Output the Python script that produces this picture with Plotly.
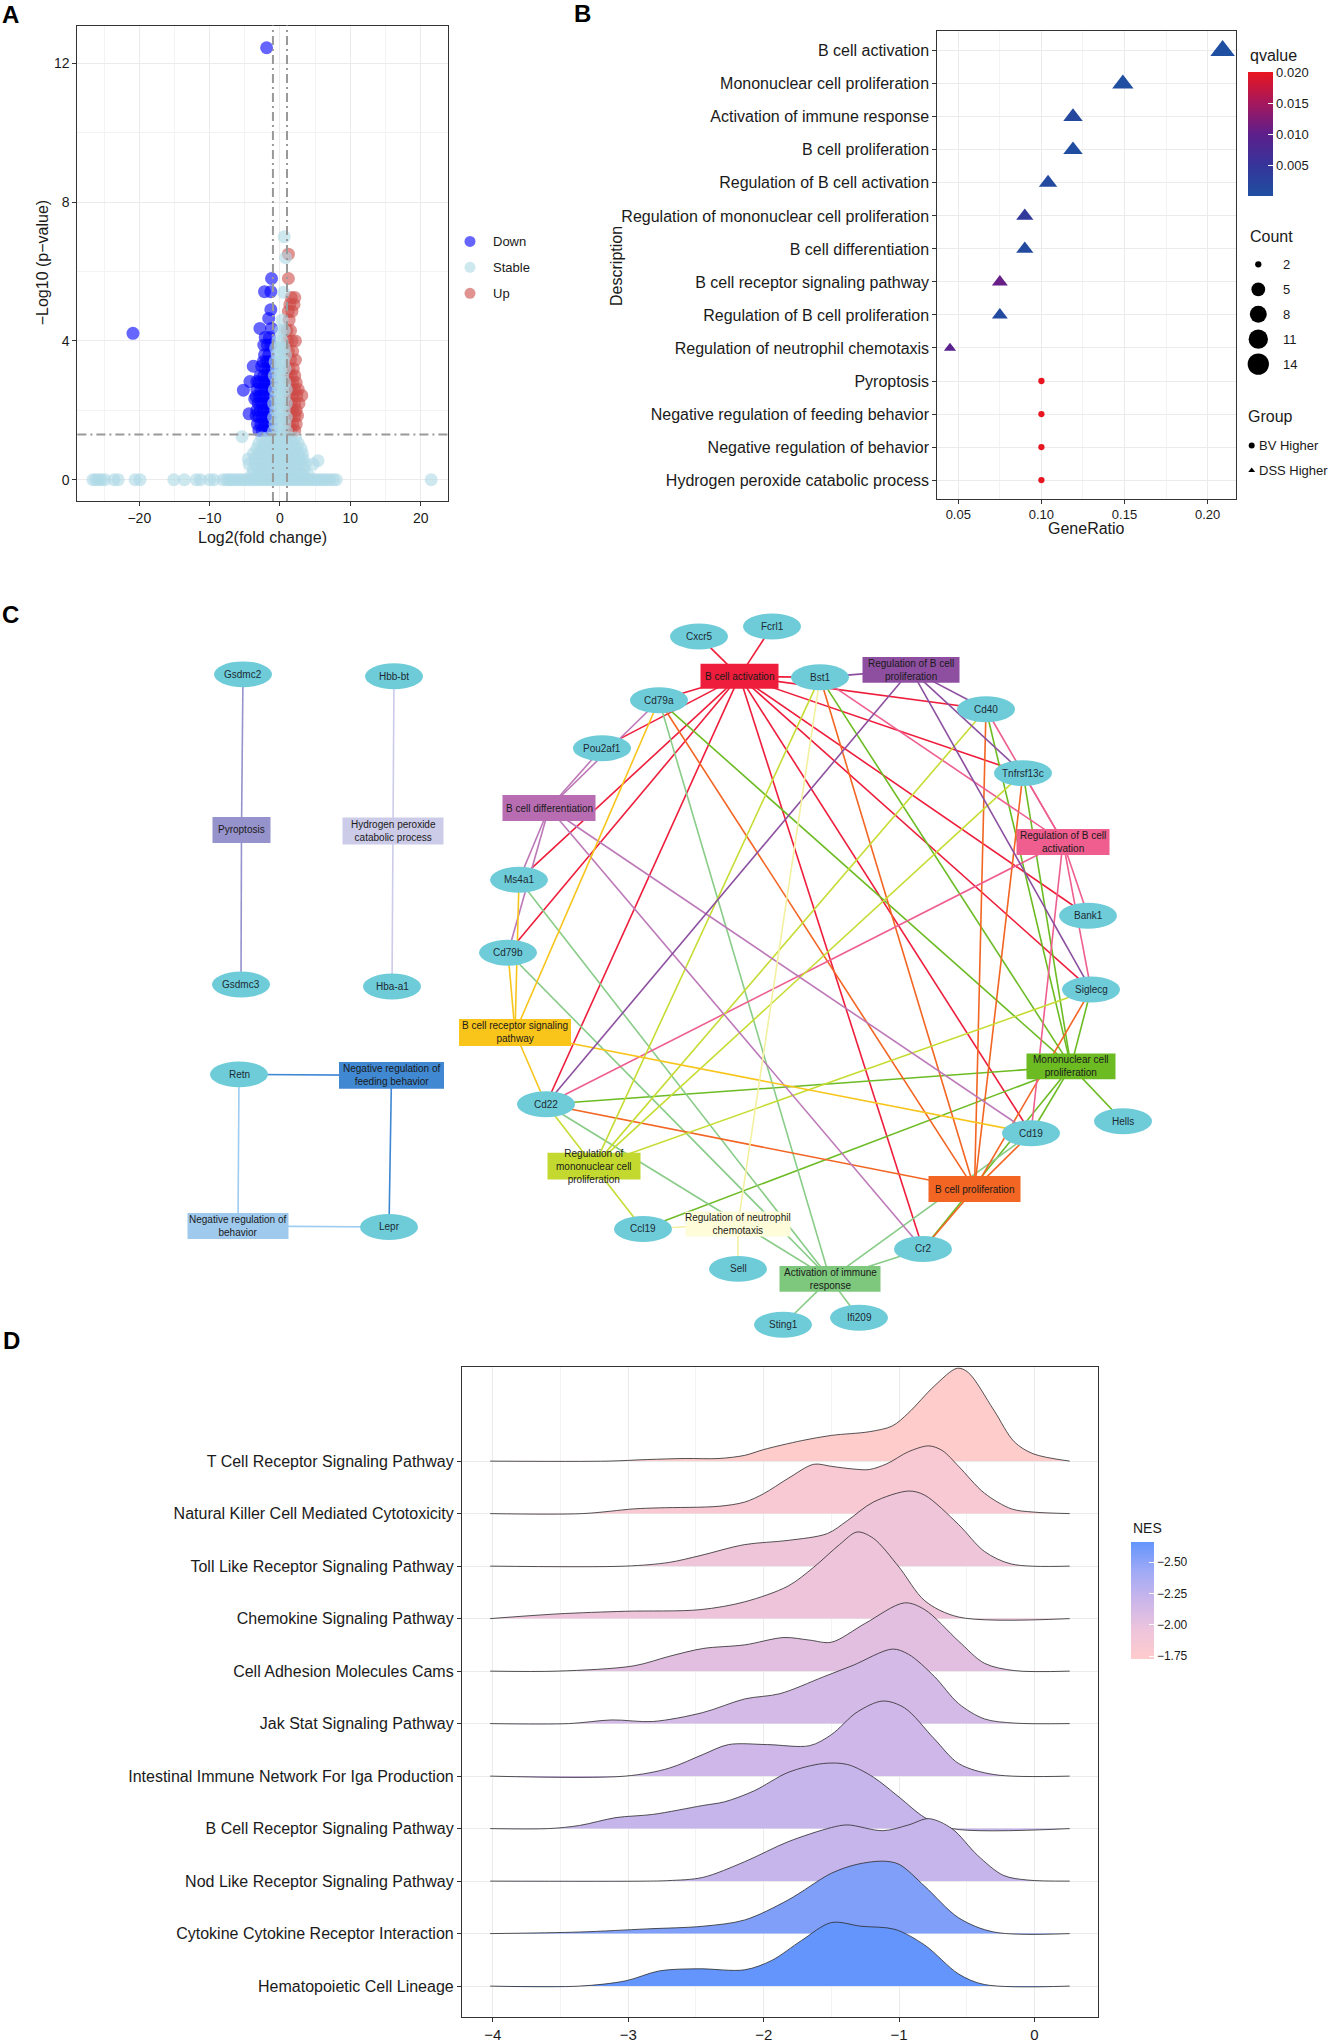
import plotly.graph_objects as go
from plotly.colors import sample_colorscale

W, H = 1331, 2043
FONT = "Liberation Sans, Arial, Helvetica, sans-serif"
INK = "#1a1a1a"
FRAME = "#333333"
GRID = "#EBEBEB"
GRID_MINOR = "#F3F3F3"

# ================= Panel A: volcano (log2 fold change, -log10 p) =================
down_rows = [
    (12.45, [-1.9]), (5.8, [-1.2]), (5.42, [-2.2, -1.3]), (4.9, [-1.3]), (4.65, [-1.6]),
    (4.36, [-2.85, -1.2]), (4.22, [-20.9]), (4.1, [-2.1, -1.5]), (3.88, [-2.3, -1.8, -1.3]),
    (3.6, [-2.2, -1.6]), (3.4, [-2.4, -1.9, -1.4]), (3.27, [-3.8, -2.6]), (3.2, [-2.1, -1.6, -1.1]),
    (3.0, [-2.8, -2.3, -1.8, -1.3]), (2.83, [-4.27, -3.3]), (2.8, [-3.0, -2.5, -2.0, -1.5, -1.1]),
    (2.6, [-3.3, -2.7, -2.2, -1.7, -1.2]), (2.58, [-5.2]), (2.4, [-3.4, -2.9, -2.4, -1.9, -1.4]),
    (2.33, [-3.6]), (2.2, [-3.1, -2.6, -2.1, -1.6, -1.1]), (2.0, [-3.3, -2.8, -2.3, -1.8, -1.3]),
    (1.9, [-4.4]), (1.85, [-3.4]), (1.8, [-3.0, -2.5, -2.0, -1.5, -1.1]),
    (1.6, [-3.2, -2.7, -2.2, -1.7, -1.2]), (1.42, [-3.0, -2.5, -2.0, -1.5, -1.1]),
]
up_rows = [
    (6.5, [1.2]), (5.8, [1.2]), (5.25, [1.6, 2.1]), (5.05, [1.4, 2.0]), (4.85, [1.2, 1.7]),
    (4.6, [1.3]), (4.3, [1.0, 1.5]), (4.0, [1.1, 1.7, 2.2]), (3.7, [1.2, 1.8]), (3.45, [1.5, 2.2]),
    (3.2, [1.3, 1.9]), (3.0, [1.1, 1.6, 2.1]), (2.8, [1.3, 1.8, 2.3]), (2.6, [1.1, 1.6, 2.1, 2.6]),
    (2.43, [1.3, 1.8, 2.4, 3.1]), (2.2, [1.1, 1.6, 2.1, 2.7]), (2.0, [1.3, 1.8, 2.3]),
    (1.85, [1.1, 1.6, 2.1, 2.5]), (1.6, [1.3, 1.8, 2.3]), (1.42, [1.1, 1.6, 2.1]),
]
stable_rows = [
    (0.0, [-26.6, -26.2, -25.8, -25.4, -24.9, -23.6, -23.0, -20.6, -19.9, -15.1, -13.6, -11.9,
           -11.3, -10.0, -9.4, -8.1, -7.6, -7.2, -6.9, -6.5, -6.1, -5.7, -5.3, -4.9, -4.5, -4.1,
           -3.7, -3.3, -2.9, -2.5, -2.1, -1.7, -1.3, -0.9, -0.5, -0.1, 0.3, 0.7, 1.1, 1.5, 1.9,
           2.3, 2.7, 3.1, 3.5, 3.9, 4.3, 4.7, 5.1, 5.5, 5.9, 6.3, 6.7, 7.1, 7.6, 8.0, 21.5]),
    (0.15, [-4.0, -3.2, -2.4, -1.6, -0.8, 0.0, 0.8, 1.6, 2.4, 3.2, 4.0]),
    (0.3, [-3.8, -3.0, -2.2, -1.4, -0.6, 0.2, 1.0, 1.8, 2.6, 3.4]),
    (0.45, [-4.4, -3.5, -2.7, -1.9, -1.1, -0.3, 0.5, 1.3, 2.1, 2.9, 3.6, 4.7]),
    (0.55, [5.4]),
    (0.6, [-4.5, -3.6, -2.8, -2.0, -1.2, -0.4, 0.4, 1.2, 2.0, 2.8, 3.3]),
    (0.75, [-3.8, -3.0, -2.2, -1.4, -0.6, 0.2, 1.0, 1.8, 2.6, 3.2]),
    (0.9, [-3.3, -2.5, -1.7, -0.9, -0.1, 0.7, 1.5, 2.3, 3.0]),
    (1.05, [-3.0, -2.2, -1.4, -0.6, 0.2, 1.0, 1.8, 2.6]),
    (1.2, [-2.6, -1.8, -1.0, -0.2, 0.6, 1.4, 2.2]),
    (1.24, [-5.4]),
    (1.4, [-0.9, -0.3, 0.3, 0.9]), (1.6, [-0.7, 0.0, 0.7]), (1.8, [-0.9, -0.3, 0.3, 0.9]),
    (2.0, [-0.6, 0.0, 0.6]), (2.2, [-0.9, -0.3, 0.3, 0.9]), (2.4, [-0.6, 0.0, 0.6]),
    (2.6, [-0.8, -0.2, 0.4, 0.9]), (2.8, [-0.5, 0.1, 0.7]), (3.0, [-0.8, -0.2, 0.4]),
    (3.2, [-0.5, 0.1, 0.7]), (3.4, [-0.7, -0.1, 0.5]), (3.6, [-0.4, 0.2, 0.8]),
    (3.8, [-0.6, 0.0, 0.6]), (4.0, [-0.3, 0.3]), (4.3, [0.1, 0.6]), (4.6, [0.3]),
    (5.4, [0.5]), (6.4, [0.8]), (7.0, [0.6]),
]
a_groups = ["Down", "Stable", "Up"]
FC_CUT = 1.0
P_CUT = 1.301

# ================= Panel B: GO enrichment =================
go_terms = [
    "B cell activation", "Mononuclear cell proliferation", "Activation of immune response",
    "B cell proliferation", "Regulation of B cell activation",
    "Regulation of mononuclear cell proliferation", "B cell differentiation",
    "B cell receptor signaling pathway", "Regulation of B cell proliferation",
    "Regulation of neutrophil chemotaxis", "Pyroptosis",
    "Negative regulation of feeding behavior", "Negative regulation of behavior",
    "Hydrogen peroxide catabolic process",
]
gene_ratio = [0.209, 0.149, 0.119, 0.119, 0.104, 0.090, 0.090, 0.075, 0.075, 0.045,
              0.100, 0.100, 0.100, 0.100]
gene_count = [14, 10, 8, 8, 7, 6, 6, 5, 5, 3, 2, 2, 2, 2]
q_value = [0.0003, 0.0004, 0.0018, 0.0006, 0.0012, 0.0042, 0.0012, 0.0108, 0.0012, 0.0095,
           0.0200, 0.0200, 0.0200, 0.0200]
group = ["DSS Higher"] * 10 + ["BV Higher"] * 4
count_legend = [2, 5, 8, 11, 14]
q_ticks = [0.005, 0.010, 0.015, 0.020]

# ================= Panel C: term-gene network =================
term_genes = {
    "B cell activation": ["Cxcr5", "Fcrl1", "Bst1", "Cd79a", "Pou2af1", "Ms4a1", "Cd79b", "Cd22",
                          "Cd40", "Tnfrsf13c", "Bank1", "Siglecg", "Cd19", "Cr2"],
    "Mononuclear cell proliferation": ["Cd79a", "Cd22", "Ccl19", "Bst1", "Cd40", "Tnfrsf13c",
                                       "Siglecg", "Hells", "Cd19", "Cr2"],
    "Activation of immune response": ["Cd79a", "Ms4a1", "Cd79b", "Cd22", "Sting1", "Ifi209",
                                      "Cd19", "Cr2"],
    "B cell proliferation": ["Cd79a", "Cd22", "Bst1", "Cd40", "Tnfrsf13c", "Siglecg", "Cd19", "Cr2"],
    "Regulation of B cell activation": ["Bst1", "Cd40", "Tnfrsf13c", "Bank1", "Siglecg", "Cd19", "Cd22"],
    "Regulation of mononuclear cell proliferation": ["Cd22", "Ccl19", "Bst1", "Cd40", "Tnfrsf13c", "Siglecg"],
    "B cell differentiation": ["Cd79a", "Pou2af1", "Ms4a1", "Cd79b", "Cd19", "Cr2"],
    "B cell receptor signaling pathway": ["Cd79a", "Ms4a1", "Cd79b", "Cd22", "Cd19"],
    "Regulation of B cell proliferation": ["Cd22", "Bst1", "Cd40", "Tnfrsf13c", "Siglecg"],
    "Regulation of neutrophil chemotaxis": ["Ccl19", "Sell", "Bst1"],
    "Pyroptosis": ["Gsdmc2", "Gsdmc3"],
    "Hydrogen peroxide catabolic process": ["Hbb-bt", "Hba-a1"],
    "Negative regulation of feeding behavior": ["Retn", "Lepr"],
    "Negative regulation of behavior": ["Retn", "Lepr"],
}
term_labels = {
    "B cell activation": "B cell activation",
    "Mononuclear cell proliferation": "Mononuclear cell<br>proliferation",
    "Activation of immune response": "Activation of immune<br>response",
    "B cell proliferation": "B cell proliferation",
    "Regulation of B cell activation": "Regulation of B cell<br>activation",
    "Regulation of mononuclear cell proliferation": "Regulation of<br>mononuclear cell<br>proliferation",
    "B cell differentiation": "B cell differentiation",
    "B cell receptor signaling pathway": "B cell receptor signaling<br>pathway",
    "Regulation of B cell proliferation": "Regulation of B cell<br>proliferation",
    "Regulation of neutrophil chemotaxis": "Regulation of neutrophil<br>chemotaxis",
    "Pyroptosis": "Pyroptosis",
    "Hydrogen peroxide catabolic process": "Hydrogen peroxide<br>catabolic process",
    "Negative regulation of feeding behavior": "Negative regulation of<br>feeding behavior",
    "Negative regulation of behavior": "Negative regulation of<br>behavior",
}

# ================= Panel D: GSEA ridges =================
pathways = [
    "T Cell Receptor Signaling Pathway", "Natural Killer Cell Mediated Cytotoxicity",
    "Toll Like Receptor Signaling Pathway", "Chemokine Signaling Pathway",
    "Cell Adhesion Molecules Cams", "Jak Stat Signaling Pathway",
    "Intestinal Immune Network For Iga Production", "B Cell Receptor Signaling Pathway",
    "Nod Like Receptor Signaling Pathway", "Cytokine Cytokine Receptor Interaction",
    "Hematopoietic Cell Lineage",
]
nes = [-1.73, -1.82, -1.93, -1.95, -2.04, -2.13, -2.17, -2.22, -2.22, -2.55, -2.66]
ridge_x = [
    [-4.02, -3.15, -2.86, -2.58, -2.33, -2.14, -2.00, -1.72, -1.50, -1.22, -1.05, -0.93, -0.74, -0.57, -0.49, -0.30, -0.15, -0.01, 0.26],
    [-4.02, -3.34, -2.96, -2.77, -2.33, -2.14, -2.00, -1.82, -1.63, -1.50, -1.34, -1.22, -1.09, -0.93, -0.78, -0.68, -0.56, -0.37, -0.17, -0.01, 0.26],
    [-4.02, -3.02, -2.70, -2.47, -2.14, -1.82, -1.53, -1.38, -1.19, -0.93, -0.81, -0.56, -0.37, -0.17, 0.26],
    [-4.02, -3.52, -3.02, -2.47, -2.14, -1.82, -1.63, -1.44, -1.31, -1.19, -1.00, -0.81, -0.56, 0.26],
    [-4.02, -3.52, -2.96, -2.70, -2.45, -2.14, -1.85, -1.66, -1.50, -1.25, -0.96, -0.81, -0.56, -0.37, -0.15, 0.26],
    [-4.02, -3.44, -3.12, -2.82, -2.45, -2.14, -1.88, -1.56, -1.34, -1.05, -0.93, -0.74, -0.56, -0.37, -0.15, 0.26],
    [-4.02, -3.02, -2.70, -2.45, -2.26, -1.97, -1.66, -1.50, -1.31, -1.12, -0.96, -0.74, -0.56, -0.30, 0.26],
    [-4.02, -3.59, -3.36, -3.09, -2.82, -2.45, -2.29, -2.07, -1.82, -1.56, -1.38, -1.19, -1.00, -0.81, -0.61, 0.26],
    [-4.02, -2.86, -2.70, -2.45, -2.14, -1.82, -1.50, -1.38, -1.12, -0.93, -0.78, -0.61, -0.42, -0.23, -0.05, 0.26],
    [-4.02, -3.36, -2.86, -2.45, -2.14, -1.82, -1.50, -1.31, -1.12, -1.00, -0.81, -0.56, -0.30, 0.26],
    [-4.02, -3.36, -3.02, -2.77, -2.48, -2.14, -1.94, -1.72, -1.50, -1.28, -1.03, -0.81, -0.56, -0.37, 0.26],
]
ridge_h = [
    [0, 0, 0.03, 0.05, 0.05, 0.11, 0.22, 0.39, 0.49, 0.56, 0.67, 0.92, 1.43, 1.77, 1.69, 0.97, 0.37, 0.14, 0],
    [0, 0, 0.09, 0.11, 0.14, 0.22, 0.38, 0.67, 0.94, 0.90, 0.85, 0.84, 0.95, 1.18, 1.29, 1.20, 0.90, 0.39, 0.09, 0.03, 0],
    [0, 0, 0.07, 0.20, 0.41, 0.49, 0.62, 0.87, 1.22, 1.43, 1.35, 0.79, 0.28, 0.04, 0],
    [0, 0.09, 0.14, 0.17, 0.32, 0.62, 0.98, 1.41, 1.65, 1.53, 0.98, 0.34, 0.03, 0],
    [0, 0, 0.10, 0.28, 0.43, 0.50, 0.64, 0.59, 0.55, 0.91, 1.30, 1.17, 0.57, 0.15, 0.01, 0],
    [0, 0, 0.07, 0.04, 0.21, 0.47, 0.57, 0.89, 1.11, 1.42, 1.32, 0.90, 0.38, 0.09, 0.01, 0],
    [0, 0, 0.15, 0.41, 0.60, 0.60, 0.58, 0.79, 1.22, 1.43, 1.30, 0.71, 0.24, 0.03, 0],
    [0, 0, 0.06, 0.21, 0.27, 0.44, 0.51, 0.72, 1.07, 1.24, 1.22, 0.98, 0.60, 0.21, 0.0, 0],
    [0, 0, 0.01, 0.07, 0.37, 0.75, 1.02, 1.07, 0.96, 1.07, 1.19, 1.00, 0.49, 0.11, 0.02, 0],
    [0, 0.03, 0.09, 0.14, 0.26, 0.64, 1.15, 1.32, 1.38, 1.32, 0.90, 0.30, 0.03, 0],
    [0, 0, 0.10, 0.29, 0.33, 0.31, 0.49, 0.87, 1.21, 1.14, 1.08, 0.78, 0.23, 0.03, 0],
]
nes_ticks = [-2.50, -2.25, -2.00, -1.75]

# ================= layout / style (pixel geometry of the page) =================
A_BOX = (77.4, 448.3, 25.6, 502.3)      # left, right, top, bottom
B_BOX = (937.4, 1235.9, 30.9, 499.8)
D_BOX = (462.0, 1098.0, 1370.5, 2021.5)

A_STYLE = {"Down": ("#0000FF", 0.6), "Stable": ("#ADD8E6", 0.6), "Up": ("#CD4B48", 0.6)}
Q_SCALE = [[0, "#1F4FA0"], [0.25, "#36349A"], [0.5, "#5E1F8C"], [0.75, "#A5175C"], [1, "#E9161F"]]
Q_MIN, Q_MAX = 0.00025, 0.0201
NES_SCALE = [[0, "#FFCCCC"], [0.25, "#EDC4DC"], [0.5, "#CBB6EA"], [0.75, "#A0AAF6"], [1, "#6395FC"]]
NES_HI, NES_LO = -1.728, -2.662

gene_pos = {
    "Gsdmc2": (243, 676), "Hbb-bt": (394, 678), "Gsdmc3": (241, 987), "Hba-a1": (392, 989),
    "Retn": (239, 1077), "Lepr": (389, 1230),
    "Cxcr5": (699, 638), "Fcrl1": (772, 628), "Bst1": (820, 679), "Cd79a": (659, 702),
    "Pou2af1": (602, 750), "Ms4a1": (519, 882), "Cd79b": (508, 955), "Cd22": (546, 1107),
    "Ccl19": (643, 1232), "Sell": (738, 1272), "Sting1": (783, 1328), "Ifi209": (859, 1321),
    "Cd40": (986, 711), "Tnfrsf13c": (1023, 775), "Bank1": (1088, 918), "Siglecg": (1091, 992),
    "Hells": (1123, 1124), "Cd19": (1031, 1136), "Cr2": (923, 1252),
}
term_box = {
    "Pyroptosis": (241.5, 832, 58, 26),
    "Hydrogen peroxide catabolic process": (393, 833, 101, 27),
    "Negative regulation of feeding behavior": (391.5, 1078, 105, 27),
    "Negative regulation of behavior": (238, 1229, 101, 26),
    "B cell activation": (739.5, 678, 78, 25),
    "Regulation of B cell proliferation": (911, 671.5, 97, 26),
    "B cell differentiation": (549, 810, 93, 26),
    "B cell receptor signaling pathway": (515, 1035, 112, 27),
    "Regulation of mononuclear cell proliferation": (594, 1169, 93, 27),
    "Regulation of neutrophil chemotaxis": (738, 1227, 105, 25),
    "Activation of immune response": (830, 1282, 101, 26),
    "Regulation of B cell activation": (1063, 844, 93, 26),
    "Mononuclear cell proliferation": (1071, 1069, 89, 26),
    "B cell proliferation": (974.5, 1192, 92, 26),
}
term_color = {
    "B cell activation": ("#EE1D3B", "#EE1D3B"),
    "Regulation of B cell proliferation": ("#8E4FA0", "#8C4FA0"),
    "B cell differentiation": ("#B86DB2", "#BD78B8"),
    "B cell receptor signaling pathway": ("#F9C51B", "#F8C51C"),
    "Regulation of mononuclear cell proliferation": ("#C3D92F", "#C6DC33"),
    "Regulation of neutrophil chemotaxis": ("#FFFDD9", "#F3F0A0"),
    "Activation of immune response": ("#7EC87E", "#88CC88"),
    "Regulation of B cell activation": ("#EF5E8E", "#EE5E8F"),
    "Mononuclear cell proliferation": ("#6DBB23", "#6CBB23"),
    "B cell proliferation": ("#F26522", "#F26522"),
    "Pyroptosis": ("#9693CC", "#9592CC"),
    "Hydrogen peroxide catabolic process": ("#CCCBE8", "#CDCBEA"),
    "Negative regulation of feeding behavior": ("#4089D2", "#3E87D3"),
    "Negative regulation of behavior": ("#9FCAEE", "#9ECBF0"),
}
GENE_FILL = "#6ECCD9"
ELL_W, ELL_H = 58, 26
NODE_FONT = 10


def xd(a, b):
    return [a / W, b / W]


def yd(top, bottom):
    return [1 - bottom / H, 1 - top / H]


def ann(text, x, y, size=13, xanchor="center", yanchor="middle", angle=0, bold=False,
        color=INK, ref="paper"):
    if ref == "paper":
        xr, yr, xv, yv = "paper", "paper", x / W, 1 - y / H
    else:
        xr, yr, xv, yv = "x4", "y4", x, y
    return dict(text=("<b>%s</b>" % text) if bold else text, x=xv, y=yv, xref=xr, yref=yr,
                xanchor=xanchor, yanchor=yanchor, textangle=angle, showarrow=False,
                font=dict(family=FONT, size=size, color=color))


def unrow(rows):
    xs, ys = [], []
    for yv, xl in rows:
        for xv in xl:
            xs.append(xv)
            ys.append(yv)
    return xs, ys


def count_size(c):
    return 3.3 + 3.0 * (1 + 5 * ((c - 2) / 12) ** 0.5)


fig = go.Figure()
annotations = []
shapes = []

# ---------- A ----------
for name, rows in [("Down", down_rows), ("Up", up_rows), ("Stable", stable_rows)]:
    xs, ys = unrow(rows)
    col, op = A_STYLE[name]
    fig.add_trace(go.Scatter(x=xs, y=ys, mode="markers", xaxis="x", yaxis="y",
                             marker=dict(size=13, color=col, opacity=op, line=dict(width=0)),
                             hoverinfo="skip"))
for xv in (-FC_CUT, FC_CUT):
    shapes.append(dict(type="line", xref="x", yref="y domain", x0=xv, x1=xv, y0=0, y1=1,
                       line=dict(color="#999999", width=2, dash="9px,4px,2px,4px"), layer="above"))
shapes.append(dict(type="line", xref="x domain", yref="y", x0=0, x1=1, y0=P_CUT, y1=P_CUT,
                   line=dict(color="#999999", width=2, dash="9px,4px,2px,4px"), layer="above"))
LEG_A_X, LEG_A_Y0, LEG_A_STEP = 470, 242, 26
for i, name in enumerate(a_groups):
    col, op = A_STYLE[name]
    fig.add_trace(go.Scatter(x=[LEG_A_X], y=[LEG_A_Y0 + i * LEG_A_STEP], mode="markers",
                             xaxis="x4", yaxis="y4", hoverinfo="skip",
                             marker=dict(size=11, color=col, opacity=op, line=dict(width=0))))
    annotations.append(ann(name, LEG_A_X + 21, LEG_A_Y0 + i * LEG_A_STEP, 13, xanchor="left"))
annotations.append(ann("Log2(fold change)", (A_BOX[0] + A_BOX[1]) / 2, 538.5, 16))
annotations.append(ann("\u2212Log10 (p\u2212value)", 42, (A_BOX[2] + A_BOX[3]) / 2, 16, angle=-90))

# ---------- B ----------
for grp, sym in [("DSS Higher", "triangle-up"), ("BV Higher", "circle")]:
    idx = [i for i, g in enumerate(group) if g == grp]
    mk = dict(symbol=sym, size=[count_size(gene_count[i]) for i in idx], opacity=1,
              color=[q_value[i] for i in idx], colorscale=Q_SCALE, cmin=Q_MIN, cmax=Q_MAX,
              line=dict(width=0), showscale=(grp == "DSS Higher"))
    if grp == "DSS Higher":
        mk["colorbar"] = dict(x=1247.7 / W, xanchor="left", xpad=0, y=1 - (71.7 + 196) / 2 / H,
                              yanchor="middle", len=124.3, lenmode="pixels", thickness=25,
                              thicknessmode="pixels", ypad=0, outlinewidth=0,
                              tickvals=q_ticks, ticktext=["%.3f" % v for v in q_ticks],
                              ticks="inside", ticklen=5, tickcolor="white",
                              tickfont=dict(family=FONT, size=13, color=INK))
    fig.add_trace(go.Scatter(x=[gene_ratio[i] for i in idx], y=[go_terms[i] for i in idx],
                             mode="markers", xaxis="x2", yaxis="y2", marker=mk, hoverinfo="skip"))
annotations.append(ann("qvalue", 1247.7, 56, 16, xanchor="left"))
annotations.append(ann("Count", 1247.7, 237.3, 16, xanchor="left"))
CNT_X, CNT_Y0, CNT_STEP = 1258.3, 265, 25
for i, c in enumerate(count_legend):
    fig.add_trace(go.Scatter(x=[CNT_X], y=[CNT_Y0 + i * CNT_STEP], mode="markers", xaxis="x4",
                             yaxis="y4", hoverinfo="skip",
                             marker=dict(size=count_size(c), color="black", line=dict(width=0))))
    annotations.append(ann(str(c), 1281, CNT_Y0 + i * CNT_STEP, 13, xanchor="left"))
annotations.append(ann("Group", 1245.7, 418, 16, xanchor="left"))
GRP_X, GRP_Y0, GRP_STEP = 1251.7, 446.7, 25
for i, (g, sym) in enumerate([("BV Higher", "circle"), ("DSS Higher", "triangle-up")]):
    fig.add_trace(go.Scatter(x=[GRP_X], y=[GRP_Y0 + i * GRP_STEP], mode="markers", xaxis="x4",
                             yaxis="y4", hoverinfo="skip",
                             marker=dict(size=6, symbol=sym, color="black", line=dict(width=0))))
    annotations.append(ann(g, GRP_X + 5.5, GRP_Y0 + i * GRP_STEP, 13, xanchor="left"))
annotations.append(ann("GeneRatio", (B_BOX[0] + B_BOX[1]) / 2, 530, 16))
annotations.append(ann("Description", 617, 266.6, 16, angle=-90))

# ---------- C ----------
for term, genes in term_genes.items():
    tx, ty = term_box[term][0], term_box[term][1]
    ex, ey = [], []
    for g in genes:
        gx, gy = gene_pos[g]
        ex += [tx, gx, None]
        ey += [ty, gy, None]
    fig.add_trace(go.Scatter(x=ex, y=ey, mode="lines", xaxis="x4", yaxis="y4", hoverinfo="skip",
                             line=dict(color=term_color[term][1], width=1.6)))
for g, (gx, gy) in gene_pos.items():
    shapes.append(dict(type="circle", xref="x4", yref="y4", x0=gx - ELL_W / 2, x1=gx + ELL_W / 2,
                       y0=gy - ELL_H / 2, y1=gy + ELL_H / 2, fillcolor=GENE_FILL,
                       line=dict(width=0), layer="above"))
    annotations.append(ann(g, gx, gy, NODE_FONT, ref="data", color="#1c2b33"))
for term, (cx, cy, bw, bh) in term_box.items():
    shapes.append(dict(type="rect", xref="x4", yref="y4", x0=cx - bw / 2, x1=cx + bw / 2,
                       y0=cy - bh / 2, y1=cy + bh / 2, fillcolor=term_color[term][0],
                       line=dict(width=0), layer="above"))
    annotations.append(ann(term_labels[term], cx, cy, NODE_FONT, ref="data", color="#1a1a1a"))

# ---------- D ----------
n = len(pathways)
norm = [(NES_HI - v) / (NES_HI - NES_LO) for v in nes]
fills = sample_colorscale(NES_SCALE, [min(max(t, 0), 1) for t in norm])
for i, name in enumerate(pathways):
    base = n - i
    xs = ridge_x[i]
    fig.add_trace(go.Scatter(x=[xs[0], xs[-1]], y=[base, base], mode="lines", xaxis="x3",
                             yaxis="y3", line=dict(width=0), hoverinfo="skip"))
    fig.add_trace(go.Scatter(x=xs, y=[base + h for h in ridge_h[i]], mode="lines", xaxis="x3",
                             yaxis="y3", fill="tonexty", fillcolor=fills[i], hoverinfo="skip",
                             line=dict(color="#2a2a2a", width=0.8, shape="spline", smoothing=0.9)))
fig.add_trace(go.Scatter(
    x=[ridge_x[i][0] for i in range(n)], y=[n - i for i in range(n)], mode="markers",
    xaxis="x3", yaxis="y3", hoverinfo="skip",
    marker=dict(size=1, opacity=0, color=[-v for v in nes], colorscale=NES_SCALE,
                cmin=-NES_HI, cmax=-NES_LO, showscale=True,
                colorbar=dict(x=1130.7 / W, xanchor="left", xpad=0, y=1 - (1546 + 1662.7) / 2 / H,
                              yanchor="middle", len=116.7, lenmode="pixels", thickness=23,
                              thicknessmode="pixels", ypad=0, outlinewidth=0,
                              tickvals=[-v for v in nes_ticks],
                              ticktext=["\u2212%.2f" % (-v) for v in nes_ticks],
                              ticks="inside", ticklen=5, tickcolor="white",
                              tickfont=dict(family=FONT, size=12, color=INK)))))
annotations.append(ann("NES", 1131, 1531.7, 14, xanchor="left"))

for letter, (lx, ly) in {"A": (10, 15), "B": (582, 14), "C": (10, 616), "D": (11, 1344)}.items():
    annotations.append(ann(letter, lx, ly, 24, bold=True, color="black"))

# ---------- axes ----------
tickf = lambda s: dict(family=FONT, size=s, color=INK)
common = dict(showline=True, mirror=True, linecolor=FRAME, linewidth=1.2, ticks="outside",
              ticklen=4, tickcolor=FRAME, showgrid=True, gridcolor=GRID, gridwidth=1.1,
              zeroline=False)

fig.update_layout(
    width=W, height=H, margin=dict(l=0, r=0, t=0, b=0), showlegend=False,
    paper_bgcolor="white", plot_bgcolor="rgba(0,0,0,0)",
    font=dict(family=FONT, color=INK),
    xaxis=dict(domain=xd(A_BOX[0], A_BOX[1]), range=[-28.8, 23.93], anchor="y",
               tickvals=[-20, -10, 0, 10, 20], tickfont=tickf(14),
               minor=dict(tickvals=[-25, -15, -5, 5, 15], showgrid=True, gridcolor=GRID_MINOR,
                          gridwidth=0.7, ticks=""), **common),
    yaxis=dict(domain=yd(A_BOX[2], A_BOX[3]), range=[-0.615, 13.09], anchor="x",
               tickvals=[0, 4, 8, 12], tickfont=tickf(14),
               minor=dict(tickvals=[2, 6, 10], showgrid=True, gridcolor=GRID_MINOR,
                          gridwidth=0.7, ticks=""), **common),
    xaxis2=dict(domain=xd(B_BOX[0], B_BOX[1]), range=[0.03743, 0.217], anchor="y2",
                tickvals=[0.05, 0.10, 0.15, 0.20], tickformat=".2f", tickfont=tickf(13),
                minor=dict(tickvals=[0.075, 0.125, 0.175], showgrid=True, gridcolor=GRID_MINOR,
                           gridwidth=0.7, ticks=""), **common),
    yaxis2=dict(domain=yd(B_BOX[2], B_BOX[3]), type="category", categoryorder="array",
                categoryarray=go_terms, range=[13.56, -0.604], anchor="x2",
                tickfont=tickf(16), **common),
    xaxis3=dict(domain=xd(D_BOX[0], D_BOX[1]), range=[-4.228, 0.469], anchor="y3",
                tickvals=[-4, -3, -2, -1, 0], tickfont=tickf(15),
                minor=dict(tickvals=[-3.5, -2.5, -1.5, -0.5], showgrid=True,
                           gridcolor=GRID_MINOR, gridwidth=0.7, ticks=""), **common),
    yaxis3=dict(domain=yd(D_BOX[2], D_BOX[3]), range=[0.42, 12.79], anchor="x3",
                tickvals=[n - i for i in range(n)], ticktext=pathways, tickfont=tickf(16),
                **common),
    xaxis4=dict(domain=[0, 1], range=[0, W], visible=False, anchor="y4", fixedrange=True),
    yaxis4=dict(domain=[0, 1], range=[H, 0], visible=False, anchor="x4", fixedrange=True),
    annotations=annotations, shapes=shapes,
)

fig.write_html("out.html", config={"displayModeBar": False},
               post_script="document.body.style.margin='0';document.body.style.overflow='hidden';")
